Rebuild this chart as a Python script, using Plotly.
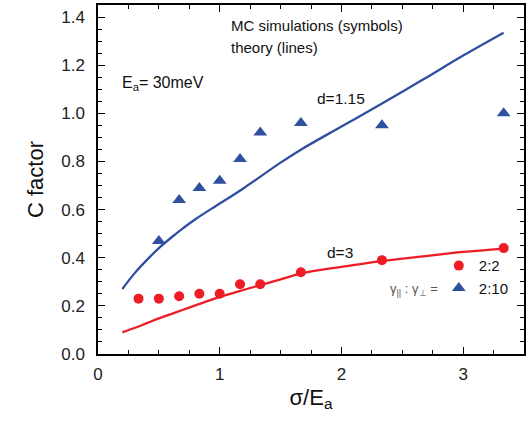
import plotly.graph_objects as go

# MC simulation results (symbols)
sim_x_22 = [0.333, 0.5, 0.667, 0.833, 1.0, 1.167, 1.333, 1.667, 2.333, 3.333]
sim_c_22 = [0.23, 0.23, 0.24, 0.25, 0.25, 0.29, 0.29, 0.34, 0.39, 0.44]

sim_x_210 = [0.5, 0.667, 0.833, 1.0, 1.167, 1.333, 1.667, 2.333, 3.333]
sim_c_210 = [0.47, 0.64, 0.69, 0.72, 0.81, 0.92, 0.96, 0.95, 1.00]

# theory curves (lines)
th_x = [0.2, 0.3, 0.4, 0.5, 0.6, 0.7, 0.8, 1.0, 1.2, 1.5, 1.67, 2.0, 2.33, 2.67, 3.0, 3.333]
th_d115 = [0.27, 0.335, 0.39, 0.44, 0.483, 0.523, 0.56, 0.625, 0.69, 0.795, 0.85, 0.945, 1.04, 1.14, 1.24, 1.335]
th_d3 = [0.09, 0.108, 0.128, 0.148, 0.166, 0.184, 0.202, 0.237, 0.267, 0.31, 0.335, 0.362, 0.386, 0.406, 0.424, 0.438]

x_ticks = [0, 1, 2, 3]
y_ticks = [0.0, 0.2, 0.4, 0.6, 0.8, 1.0, 1.2, 1.4]

RED = "#ee1d25"
BLUE = "#2f4f9f"
FONT = "Liberation Sans, Arial, sans-serif"

fig = go.Figure()

fig.add_trace(go.Scatter(x=th_x, y=th_d115, mode="lines", line=dict(color=BLUE, width=2.3, shape="spline"),
                         showlegend=False, hoverinfo="skip"))
fig.add_trace(go.Scatter(x=th_x, y=th_d3, mode="lines", line=dict(color=RED, width=2.3, shape="spline"),
                         showlegend=False, hoverinfo="skip"))
fig.add_trace(go.Scatter(x=sim_x_22, y=sim_c_22, mode="markers", name="2:2",
                         marker=dict(symbol="circle", size=10, color=RED)))
fig.add_trace(go.Scatter(x=sim_x_210, y=sim_c_210, mode="markers", name="2:10",
                         marker=dict(symbol="triangle-up", size=12, color=BLUE)))

axis_common = dict(
    showline=True, linecolor="black", linewidth=1.5, mirror="ticks",
    ticks="inside", ticklen=7, tickwidth=1.3, tickcolor="black",
    showgrid=False, zeroline=False,
    tickfont=dict(family=FONT, size=17, color="#222"),
)

fig.update_xaxes(
    range=[0, 3.5], tickvals=x_ticks, ticktext=[str(v) for v in x_ticks],
    minor=dict(dtick=0.25, ticks="inside", ticklen=4, tickwidth=1.2, tickcolor="black"),
    title=dict(text="σ/E<sub>a</sub>", font=dict(family=FONT, size=22, color="#111"), standoff=6),
    ticklabelstandoff=4,
    **axis_common,
)
fig.update_yaxes(
    range=[0, 1.45], tickvals=y_ticks, ticktext=[f"{v:.1f}" for v in y_ticks],
    minor=dict(dtick=0.05, ticks="inside", ticklen=4, tickwidth=1.2, tickcolor="black"),
    title=dict(text="C factor", font=dict(family=FONT, size=22, color="#111"), standoff=12),
    ticklabelstandoff=8,
    **axis_common,
)

annotations = [
    dict(x=1.08, y=1.365, text="MC simulations (symbols)", xanchor="left", yanchor="middle",
         showarrow=False, font=dict(family=FONT, size=15, color="#111")),
    dict(x=1.08, y=1.275, text="theory (lines)", xanchor="left", yanchor="middle",
         showarrow=False, font=dict(family=FONT, size=15, color="#111")),
    dict(x=0.18, y=1.125, text="E<sub>a</sub>= 30meV", xanchor="left", yanchor="middle",
         showarrow=False, font=dict(family=FONT, size=16, color="#111")),
    dict(x=2.0, y=1.06, text="d=1.15", xanchor="center", yanchor="middle",
         showarrow=False, font=dict(family=FONT, size=15.5, color="#111")),
    dict(x=1.99, y=0.42, text="d=3", xanchor="center", yanchor="middle",
         showarrow=False, font=dict(family=FONT, size=15.5, color="#111")),
    dict(x=2.6, y=0.27, text="γ<sub>||</sub> : γ<sub>⊥</sub> =", xanchor="center", yanchor="middle",
         showarrow=False, font=dict(family=FONT, size=13, color="#555")),
]

fig.update_layout(
    width=528, height=426,
    margin=dict(l=98, r=2, t=5, b=72),
    paper_bgcolor="white", plot_bgcolor="white",
    font=dict(family=FONT, color="#111"),
    annotations=annotations,
    showlegend=True,
    legend=dict(x=0.80, y=0.221, xanchor="left", yanchor="middle",
                bgcolor="rgba(0,0,0,0)", font=dict(family=FONT, size=15, color="#111"),
                itemsizing="trace", tracegroupgap=0),
)

fig.write_html("out.html")
